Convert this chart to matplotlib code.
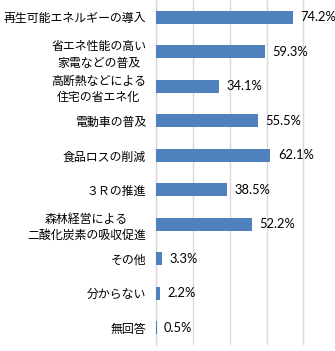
import numpy as np
import matplotlib
matplotlib.use('Agg')
from matplotlib import pyplot as plt

plt.rcParams['font.family'] = ['Noto Sans CJK JP', 'DejaVu Sans']

categories = ['再生可能エネルギーの導入',
              '省エネ性能の高い\n家電などの普及',
              '高断熱などによる\n住宅の省エネ化',
              '電動車の普及',
              '食品ロスの削減',
              '３Ｒの推進',
              '森林経営による\n二酸化炭素の吸収促進',
              'その他',
              '分からない',
              '無回答']
values = [74.2, 59.3, 34.1, 55.5, 62.1, 38.5, 52.2, 3.3, 2.2, 0.5]
value_labels = ['%.1f%%' % v for v in values]

fig = plt.figure(figsize=(3.35, 3.51), dpi=100)
ax = fig.add_axes([0.465, 0.017, 0.535, 0.983])

y = np.arange(len(categories))
ax.barh(y, values, height=0.385, color='#4F81BD', zorder=3)

for yi, v, lab in zip(y, values, value_labels):
    ax.text(v + 4.0, yi, lab, va='center', ha='left', fontsize=9.3,
            family=['Lato', 'DejaVu Sans'], color='#000000')

ax.set_ylim(len(categories) - 0.5, -0.5)
ax.set_xlim(0, 97.1)
ax.set_xticks([0, 20, 40, 60, 80])
ax.tick_params(axis='x', length=0, labelbottom=False)
ax.grid(axis='x', color='#d9d9d9', linewidth=1.0, zorder=0)

ax.set_yticks(y)
ax.set_yticklabels(categories, fontsize=8.6, multialignment='center', linespacing=1.35)
ax.tick_params(axis='y', length=0, pad=7)

for s in ['top', 'right', 'bottom']:
    ax.spines[s].set_visible(False)
ax.spines['left'].set_color('#d9d9d9')
ax.spines['left'].set_linewidth(1.0)

fig.savefig('out.png', dpi=100)
